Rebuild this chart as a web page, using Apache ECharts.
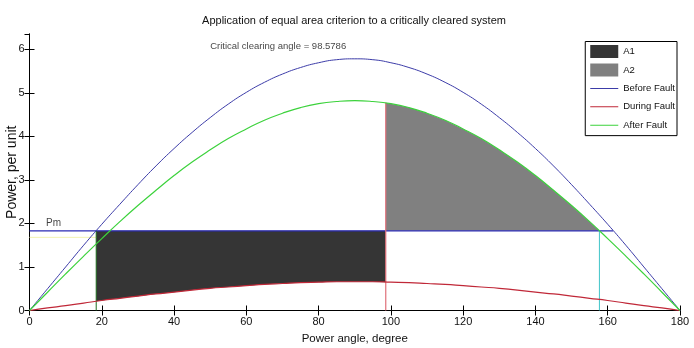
<!DOCTYPE html>
<html>
<head>
<meta charset="utf-8">
<script src="https://cdn.jsdelivr.net/npm/echarts@6/dist/echarts.min.js"></script>
<style>
html,body{margin:0;padding:0;background:#fff;}
#chart{width:694px;height:348px;}
</style>
</head>
<body>
<div id="chart"></div>
<script>
// Power angle samples (degrees)
var angles = [0,5,10,15,20,25,30,35,40,45,50,55,60,65,70,75,80,85,90,95,100,105,110,115,120,125,130,135,140,145,150,155,160,165,170,175,180];
// Before fault power curve (p.u.)
var beforeFault = [0,0.50,1.00,1.50,1.98,2.44,2.89,3.32,3.72,4.09,4.43,4.74,5.01,5.24,5.43,5.58,5.69,5.76,5.78,5.76,5.69,5.58,5.43,5.24,5.01,4.74,4.43,4.09,3.72,3.32,2.89,2.44,1.98,1.50,1.00,0.50,0];
// During fault power curve (p.u.)
var duringFault = [0,0.06,0.11,0.17,0.23,0.28,0.33,0.38,0.42,0.47,0.51,0.54,0.57,0.60,0.62,0.64,0.65,0.66,0.66,0.66,0.65,0.64,0.62,0.60,0.57,0.54,0.51,0.47,0.42,0.38,0.33,0.28,0.23,0.17,0.11,0.06,0];
// After fault power curve (p.u.)
var afterFault = [0,0.42,0.84,1.25,1.65,2.04,2.41,2.76,3.10,3.41,3.69,3.95,4.17,4.37,4.53,4.66,4.75,4.80,4.82,4.80,4.75,4.66,4.53,4.37,4.17,3.95,3.69,3.41,3.10,2.76,2.41,2.04,1.65,1.25,0.84,0.42,0];
// Key values
var Pm = 1.83;
var delta0 = 18.46;          // initial angle
var deltaC = 98.5786;        // critical clearing angle
var deltaMax = 157.7;        // maximum angle
var deltaPmEnd = 161.5;      // end of Pm line
var duringAtDelta0 = 0.21;
var duringAtDeltaC = 0.65;
var afterAtDeltaC = 4.77;
var yellowLevel = 1.68;
var xTicks = [0,20,40,60,80,100,120,140,160,180];
var yTicks = [0,1,2,3,4,5,6];
var yMax = 6.35;

var FONT = '"Liberation Sans Narrow","Liberation Sans",Arial,sans-serif';
// thin horizontal bar centred in a 100x46 box (tiny corner specks keep the box size)
var LINE_ICON = 'path://M0,0 L0.1,0 L0,0.1 Z M0,21.2 H100 V24.8 H0 Z M100,46 L99.9,46 L100,45.9 Z';

function zip(xs, ys) { return xs.map(function (x, i) { return [x, ys[i]]; }); }

// A1 polygon: Pm line on top, during-fault curve at bottom
var a1Pts = [[delta0, Pm], [deltaC, Pm], [deltaC, duringAtDeltaC]];
for (var i = angles.length - 1; i >= 0; i--) {
  if (angles[i] > delta0 && angles[i] < deltaC) a1Pts.push([angles[i], duringFault[i]]);
}
a1Pts.push([delta0, duringAtDelta0]);

// A2 polygon: after-fault curve on top, Pm line at bottom
var a2Pts = [[deltaC, Pm], [deltaC, afterAtDeltaC]];
for (var j = 0; j < angles.length; j++) {
  if (angles[j] > deltaC && angles[j] < deltaMax) a2Pts.push([angles[j], afterFault[j]]);
}
a2Pts.push([deltaMax, Pm]);

function polySeries(name, pts, color) {
  return {
    name: name, type: 'custom', coordinateSystem: 'cartesian2d',
    itemStyle: { color: color },
    data: [[pts[0][0], pts[0][1]]],
    renderItem: function (params, api) {
      return {
        type: 'polygon',
        shape: { points: pts.map(function (p) { return api.coord(p); }) },
        style: { fill: color, stroke: null }
      };
    },
    z: 1, silent: true
  };
}

function lineSeries(name, data, color, width, z, smooth) {
  return {
    name: name, type: 'line', data: data, symbol: 'none', smooth: !!smooth,
    lineStyle: { color: color, width: width || 1 }, itemStyle: { color: color },
    z: z || 3, silent: true, animation: false
  };
}

var chart = echarts.init(document.getElementById('chart'));
var axisCommon = {
  type: 'value',
  axisLine: { show: true, lineStyle: { color: '#000', width: 1 } },
  axisTick: { show: true, inside: true, length: 5, lineStyle: { color: '#000' } },
  splitLine: { show: false }
};
chart.setOption({
  animation: false,
  backgroundColor: '#fff',
  textStyle: { fontFamily: FONT },
  title: {
    text: 'Application of equal area criterion to a critically cleared system',
    left: 354, top: 15.5, textAlign: 'center', padding: 0,
    textStyle: { fontFamily: FONT, fontSize: 11, fontWeight: 'normal', color: '#111' }
  },
  grid: { left: 29.5, right: 14, top: 34, bottom: 37.5, containLabel: false, outerBoundsMode: 'none' },
  legend: {
    right: 17, top: 41.5, orient: 'vertical',
    backgroundColor: '#fff', borderColor: '#000', borderWidth: 1,
    padding: [3.5, 2, 4, 5], itemGap: 5.5, itemWidth: 28, itemHeight: 13,
    textStyle: { fontFamily: FONT, fontSize: 9.5, color: '#111' },
    data: [
      { name: 'A1', icon: 'rect' },
      { name: 'A2', icon: 'rect' },
      { name: 'Before Fault', icon: LINE_ICON },
      { name: 'During Fault', icon: LINE_ICON },
      { name: 'After Fault', icon: LINE_ICON }
    ]
  },
  xAxis: [
    Object.assign({}, axisCommon, {
      position: 'bottom', min: 0, max: 180, interval: 20,
      axisLabel: { fontFamily: FONT, fontSize: 11, color: '#111', margin: 6 },
      name: 'Power angle, degree', nameLocation: 'middle', nameGap: 22, nameMoveOverlap: false,
      nameTextStyle: { fontFamily: FONT, fontSize: 11.5, color: '#111' }
    }),
    Object.assign({}, axisCommon, {
      position: 'top', min: 0, max: 180, interval: 20, axisLabel: { show: false }
    })
  ],
  yAxis: [
    Object.assign({}, axisCommon, {
      position: 'left', min: 0, max: yMax, interval: 1,
      axisLabel: { fontFamily: FONT, fontSize: 11, color: '#111', margin: 5, showMaxLabel: false,
        formatter: function (v) { return yTicks.indexOf(v) >= 0 ? String(v) : ''; } },
      name: 'Power, per unit', nameLocation: 'middle', nameGap: 10.5, nameMoveOverlap: false,
      nameTextStyle: { fontFamily: FONT, fontSize: 14, color: '#111' }
    }),
    Object.assign({}, axisCommon, {
      position: 'right', min: 0, max: yMax, interval: 1, axisLabel: { show: false }
    })
  ],
  series: [
    polySeries('A1', a1Pts, '#353535'),
    polySeries('A2', a2Pts, '#808080'),
    lineSeries('yellow', [[0, yellowLevel], [delta0, yellowLevel]], '#f2f2b0', 1, 2),
    lineSeries('Pm', [[0, Pm], [deltaPmEnd, Pm]], '#2a2ab4', 1.2, 3),
    lineSeries('delta0', [[delta0, 0], [delta0, Pm]], '#1e6e1e', 1, 3),
    lineSeries('deltaC', [[deltaC, 0], [deltaC, afterAtDeltaC]], '#e0707a', 1.2, 3),
    lineSeries('deltaMax', [[deltaMax, 0], [deltaMax, Pm]], '#40c4c8', 1, 3),
    lineSeries('Before Fault', zip(angles, beforeFault), '#3c3ca8', 1, 4, true),
    lineSeries('During Fault', zip(angles, duringFault), '#c02838', 1.2, 4, true),
    lineSeries('After Fault', zip(angles, afterFault), '#3cd23c', 1.2, 4, true),
    {
      name: 'labels', type: 'scatter', symbolSize: 0, silent: true, z: 5,
      data: [
        { value: [4.6, Pm + 0.05], label: { show: true, position: 'inside', align: 'left', verticalAlign: 'bottom', fontSize: 10, formatter: 'Pm' } },
        { value: [50, 6.07], label: { show: true, position: 'inside', align: 'left', verticalAlign: 'middle', fontSize: 9.5, formatter: 'Critical clearing angle = ' + deltaC } }
      ],
      label: { fontFamily: FONT, color: '#111' }
    }
  ]
});
</script>
</body>
</html>
